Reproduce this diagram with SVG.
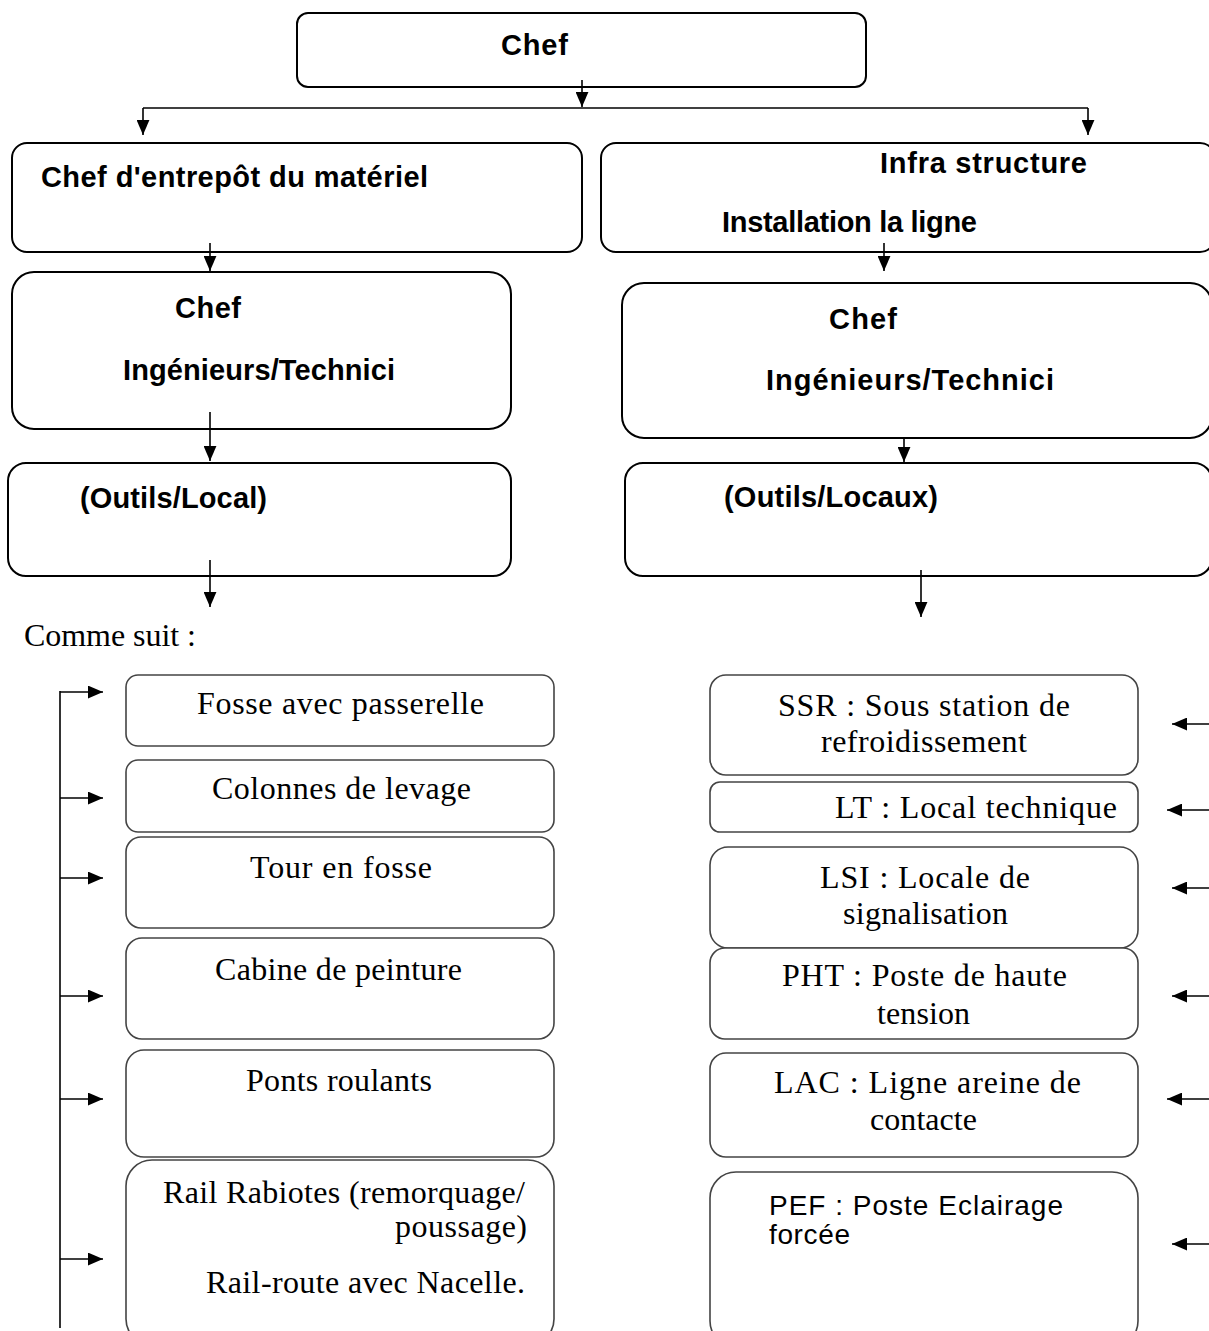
<svg xmlns="http://www.w3.org/2000/svg" width="1209" height="1331" viewBox="0 0 1209 1331">
<style>
.top{fill:#fff;stroke:#000;stroke-width:2}
.low{fill:#fff;stroke:#444;stroke-width:1.6}
.b{font-family:"Liberation Sans",Arial,sans-serif;font-weight:bold;font-size:29px;fill:#000}
.s{font-family:"Liberation Serif","Times New Roman",serif;font-size:32px;fill:#000}
.ss{font-family:"Liberation Sans",Arial,sans-serif;font-size:28px;fill:#000}
.c{stroke:#000;stroke-width:1.6;fill:none;marker-end:url(#ah)}
.l{stroke:#000;stroke-width:1.6;fill:none}
</style>
<defs>
<marker id="ah" viewBox="0 0 14 12" markerWidth="15" markerHeight="13" refX="14" refY="6" orient="auto" markerUnits="userSpaceOnUse">
<path d="M0,0 L14,6 L0,12 z" fill="#000"/>
</marker>
</defs>
<rect width="1209" height="1331" fill="#fff"/>

<g id="n-chef"><rect class="top" x="297" y="13" width="569" height="74" rx="11"/><text class="b" x="501" y="55" textLength="67">Chef</text></g>
<g id="n-entrepot"><rect class="top" x="12" y="143" width="570" height="109" rx="15"/><text class="b" x="41" y="187" textLength="387">Chef d'entrepôt du matériel</text></g>
<g id="n-infra"><rect class="top" x="601" y="143" width="614" height="109" rx="15"/><text class="b" x="880" y="173" textLength="207">Infra structure</text><text class="b" x="722" y="232" textLength="255">Installation la ligne</text></g>
<g id="n-chef-l"><rect class="top" x="12" y="272" width="499" height="157" rx="22"/><text class="b" x="175" y="318" textLength="66">Chef</text><text class="b" x="123" y="380" textLength="272">Ingénieurs/Technici</text></g>
<g id="n-chef-r"><rect class="top" x="622" y="283" width="590" height="155" rx="22"/><text class="b" x="829" y="329" textLength="68">Chef</text><text class="b" x="766" y="390" textLength="288">Ingénieurs/Technici</text></g>
<g id="n-outils-l"><rect class="top" x="8" y="463" width="503" height="113" rx="18"/><text class="b" x="80" y="508" textLength="187">(Outils/Local)</text></g>
<g id="n-outils-r"><rect class="top" x="625" y="463" width="587" height="113" rx="18"/><text class="b" x="724" y="507" textLength="214">(Outils/Locaux)</text></g>

<text id="t-comme" class="s" x="24" y="646" textLength="172">Comme suit :</text>

<g id="n-fosse"><rect class="low" x="126" y="675" width="428" height="71" rx="12"/><text class="s" x="197" y="714" textLength="287">Fosse avec passerelle</text></g>
<g id="n-colonnes"><rect class="low" x="126" y="760" width="428" height="72" rx="12"/><text class="s" x="212" y="799" textLength="259">Colonnes de levage</text></g>
<g id="n-tour"><rect class="low" x="126" y="837" width="428" height="91" rx="15"/><text class="s" x="250" y="878" textLength="182">Tour en fosse</text></g>
<g id="n-cabine"><rect class="low" x="126" y="938" width="428" height="101" rx="16"/><text class="s" x="215" y="980" textLength="247">Cabine de peinture</text></g>
<g id="n-ponts"><rect class="low" x="126" y="1050" width="428" height="107" rx="18"/><text class="s" x="246" y="1091" textLength="186">Ponts roulants</text></g>
<g id="n-rail"><rect class="low" x="126" y="1160" width="428" height="185" rx="26"/><text class="s" x="163" y="1203" textLength="362">Rail Rabiotes (remorquage/</text><text class="s" x="395" y="1237" textLength="132">poussage)</text><text class="s" x="206" y="1293" textLength="319">Rail-route avec Nacelle.</text></g>

<g id="n-ssr"><rect class="low" x="710" y="675" width="428" height="100" rx="16"/><text class="s" x="778" y="716" textLength="292">SSR : Sous station de</text><text class="s" x="821" y="752" textLength="206">refroidissement</text></g>
<g id="n-lt"><rect class="low" x="710" y="782" width="428" height="50" rx="10"/><text class="s" x="835" y="818" textLength="282">LT : Local technique</text></g>
<g id="n-lsi"><rect class="low" x="710" y="847" width="428" height="101" rx="18"/><text class="s" x="820" y="888" textLength="210">LSI : Locale de</text><text class="s" x="843" y="924" textLength="165">signalisation</text></g>
<g id="n-pht"><rect class="low" x="710" y="948" width="428" height="91" rx="15"/><text class="s" x="782" y="986" textLength="285">PHT : Poste de haute</text><text class="s" x="877" y="1024" textLength="93">tension</text></g>
<g id="n-lac"><rect class="low" x="710" y="1053" width="428" height="104" rx="16"/><text class="s" x="774" y="1093" textLength="307">LAC : Ligne areine de</text><text class="s" x="870" y="1130" textLength="107">contacte</text></g>
<g id="n-pef"><rect class="low" x="710" y="1172" width="428" height="175" rx="26"/><text class="ss" x="769" y="1215" textLength="294">PEF : Poste Eclairage</text><text class="ss" x="769" y="1244" textLength="81">forcée</text></g>

<g id="connectors">
<path class="c" d="M582,80 V107"/>
<path class="l" d="M143,108 H1088"/>
<path class="c" d="M143,108 V135"/>
<path class="c" d="M1088,108 V135"/>
<path class="c" d="M210,243 V271"/>
<path class="c" d="M884,243 V271"/>
<path class="c" d="M210,412 V461"/>
<path class="c" d="M904,438 V462"/>
<path class="c" d="M210,560 V607"/>
<path class="c" d="M921,570 V617"/>
<path class="l" d="M60,691 V1328"/>
<path class="c" d="M60,692 H103"/>
<path class="c" d="M60,798 H103"/>
<path class="c" d="M60,878 H103"/>
<path class="c" d="M60,996 H103"/>
<path class="c" d="M60,1099 H103"/>
<path class="c" d="M60,1259 H103"/>
<path class="c" d="M1209,724 H1172"/>
<path class="c" d="M1209,810 H1167"/>
<path class="c" d="M1209,888 H1172"/>
<path class="c" d="M1209,996 H1172"/>
<path class="c" d="M1209,1099 H1167"/>
<path class="c" d="M1209,1244 H1172"/>
</g>
</svg>
